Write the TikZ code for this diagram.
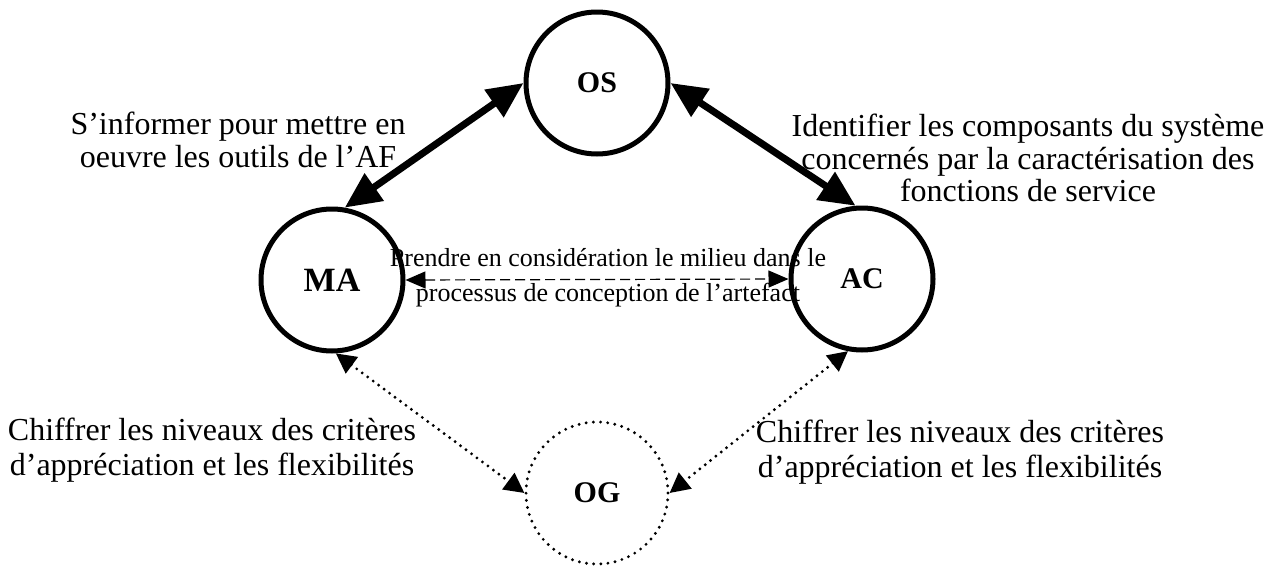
\documentclass[tikz,border=0pt]{standalone}
\usepackage{fontspec}
\setmainfont{Liberation Serif}
\usetikzlibrary{arrows.meta,positioning}

\begin{document}
\begin{tikzpicture}[x=0.5pt, y=-0.5pt,
  pole/.style={circle, draw, line width=2.5pt, minimum size=71pt, inner sep=0pt, font=\fontsize{15}{18}\selectfont\bfseries},
  polepot/.style={pole, line width=1.6pt, dash pattern=on 0pt off 3.6pt, line cap=round},
  note/.style={align=center, inner sep=0pt, font=\fontsize{16}{16.3}\selectfont},
  lownote/.style={note, font=\fontsize{16}{17.5}\selectfont},
  midnote/.style={note, font=\fontsize{13}{17.5}\selectfont},
  bigarr/.style={{Triangle[length=18pt,width=16pt]}-{Triangle[length=18pt,width=16pt]}, line width=3.5pt},
  dotarr/.style={{Triangle[length=10pt,width=10pt]}-{Triangle[length=10pt,width=10pt]}, line width=1.6pt, dash pattern=on 0pt off 3.4pt, line cap=round},
  dasharr/.style={{Triangle[length=10pt,width=8.5pt]}-{Triangle[length=10pt,width=8.5pt]}, line width=0.6pt, dash pattern=on 5pt off 2.5pt}
]
\useasboundingbox (0,0) rectangle (1276,568);
% les quatre poles
\node[pole] (os) at (597,83) {OS};
\node[pole, font=\fontsize{17}{18}\selectfont\bfseries] (ma) at (332,280) {MA};
\node[pole] (ac) at (862,279) {AC};
\node[polepot] (og) at (597,493) {OG};
% textes
\node[note] (informer) at (238,140) {S’informer pour mettre en\\oeuvre les outils de l’AF};
\node[note] (composants) at (1028,158) {Identifier les composants du système\\concernés par la caractérisation des\\fonctions de service};
\node[lownote] (chiffrerg) at (212,450) {Chiffrer les niveaux des critères\\d’appréciation et les flexibilités};
\node[lownote] (chiffrerd) at (960,452) {Chiffrer les niveaux des critères\\d’appréciation et les flexibilités};
% liaisons
\draw[bigarr] (ma.80) -- (os.west);
\draw[bigarr] (os.east) -- (ac.95);
\draw[dasharr] (ma.east) -- (ac.west);
\draw[dotarr] (ma.-87) -- (og.west);
\draw[dotarr] (ac.-101) -- (og.east);
\node[midnote] (milieu) at (608,278) {Prendre en considération le milieu dans le\\processus de conception de l’artefact};
\end{tikzpicture}
\end{document}
